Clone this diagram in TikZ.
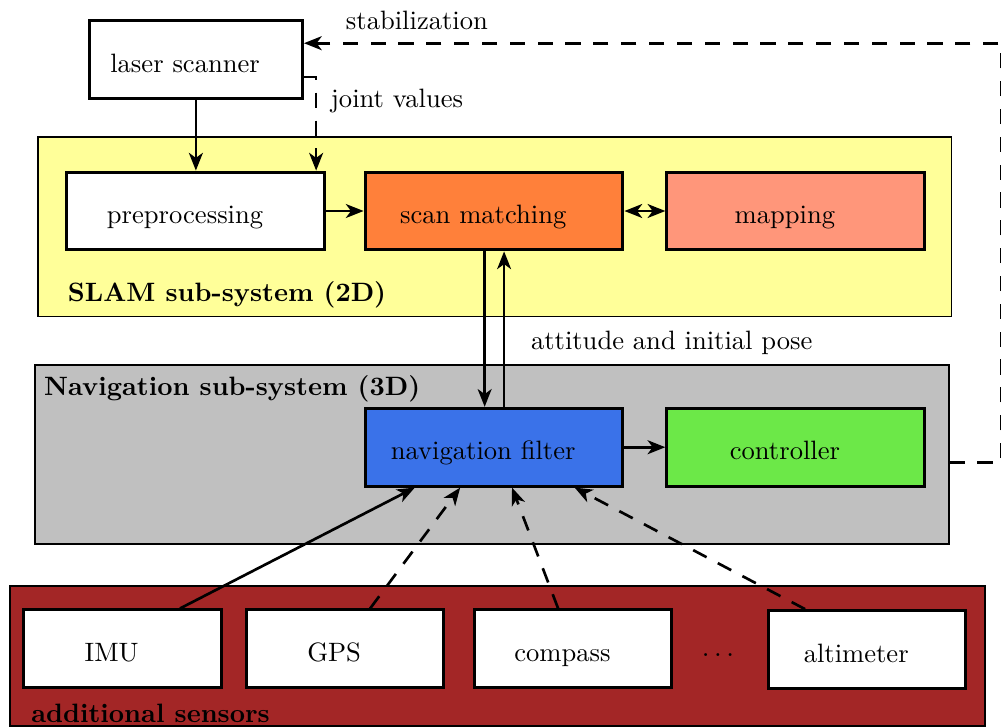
\documentclass[tikz,border=0pt]{standalone}
\usepackage{fontspec}
\usepackage{tikz}
\usetikzlibrary{arrows.meta, positioning, calc}
\definecolor{slamyellow}{RGB}{255, 255, 153}
\definecolor{navgray}{RGB}{192, 192, 192}
\definecolor{sensred}{RGB}{163, 38, 38}
\definecolor{scanorange}{RGB}{255, 128, 58}
\definecolor{mapsalmon}{RGB}{255, 150, 122}
\definecolor{filterblue}{RGB}{58, 114, 233}
\definecolor{ctrlgreen}{RGB}{108, 232, 72}

\begin{document}
\begin{tikzpicture}[>={Stealth[length=7pt, width=5.5pt, inset=2pt]},
  font=\fontsize{10.5pt}{12.6pt}\selectfont,
  block/.style={draw, very thick, minimum width=3.58cm, minimum height=1.08cm,
    text height=12.5pt, text depth=2.5pt,
    execute at begin node=\hspace*{-0.3cm}},
  sensor/.style={block, fill=white, minimum width=2.74cm},
  group/.style={draw, semithick, minimum width=12.69cm, minimum height=2.49cm},
  link/.style={->, line width=1.05pt},
  dlink/.style={->, line width=1.05pt, dash pattern=on 6pt off 5pt}]

\useasboundingbox (0,0) rectangle (13.90,-10.10);

% --- Sub-systems (background boxes) ---
\node[group, fill=slamyellow] (slam) at (6.87, -3.15) {};
\node[group, fill=navgray] (navgroup) at (6.83, -6.31) {};
\node[group, fill=sensred, minimum width=13.54cm, minimum height=1.94cm] (sensgroup) at (6.91, -9.11) {};

\node[anchor=west, font=\fontsize{10.5pt}{12.6pt}\selectfont\bfseries] (slamlabel) at (0.82, -4.10) {SLAM sub-system (2D)};
\node[anchor=west, font=\fontsize{10.5pt}{12.6pt}\selectfont\bfseries] (navlabel) at (0.49, -5.40) {Navigation sub-system (3D)};
\node[anchor=west, font=\fontsize{10.5pt}{12.6pt}\selectfont\bfseries] (senslabel) at (0.31, -9.90) {additional sensors};

% --- Blocks ---
\node[block, fill=white, minimum width=2.96cm] (laser) at (2.72, -0.83) {laser scanner};
\node[block, fill=white] (pre) at (2.72, -2.93) {preprocessing};
\node[block, fill=scanorange] (scan) at (6.86, -2.93) {scan matching};
\node[block, fill=mapsalmon] (map) at (11.05, -2.93) {mapping};
\node[block, fill=filterblue] (filter) at (6.86, -6.21) {navigation filter};
\node[block, fill=ctrlgreen] (ctrl) at (11.05, -6.21) {controller};

% Sensoren
\node[sensor] (imu) at (1.70, -9.01) {IMU};
\node[sensor] (gps) at (4.79, -9.01) {GPS};
\node[sensor] (compass) at (7.96, -9.01) {compass};
\node[sensor] (alti) at (12.04, -9.02) {altimeter};
\node (dots) at (9.97, -9.10) {$\dots$};

% --- Connections ---
\draw[link] (laser.south) -- (laser.south |- pre.north);
\draw[link] (pre) -- (scan);
\draw[link, <->] (scan) -- (map);
\draw[link] (filter) -- (ctrl);
\draw[link] ([xshift=-0.13cm]scan.south) -- ([xshift=-0.13cm]filter.north);
\draw[link] ([xshift=0.14cm]filter.north) -- ([xshift=0.14cm]scan.south);
\node[anchor=west] (attlabel) at (7.25, -4.76) {attitude and initial pose};

\draw[link] ([xshift=0.80cm]imu.north) -- ([xshift=-1.10cm]filter.south);
\draw[dlink] ([xshift=0.35cm]gps.north) -- ([xshift=-0.47cm]filter.south);
\draw[dlink] ([xshift=-0.21cm]compass.north) -- ([xshift=0.25cm]filter.south);
\draw[dlink] ([xshift=-0.86cm]alti.north) -- ([xshift=1.12cm]filter.south);

% joint values
\coordinate (jv) at (4.39, -1.07);
\draw[dlink] (laser.east |- jv) -- (jv) -- (jv |- pre.north);
\node[anchor=west] (jvlabel) at (4.47, -1.40) {joint values};

% stabilization
\coordinate (stabbot) at (13.90, -6.42);
\coordinate (stabtop) at (13.90, -0.60);
\draw[dlink] (navgroup.east |- stabbot) -- (stabbot) -- (stabtop) -- (laser.east |- stabtop);
\node[anchor=west] (stablabel) at (4.68, -0.28) {stabilization};

\end{tikzpicture}
\end{document}
